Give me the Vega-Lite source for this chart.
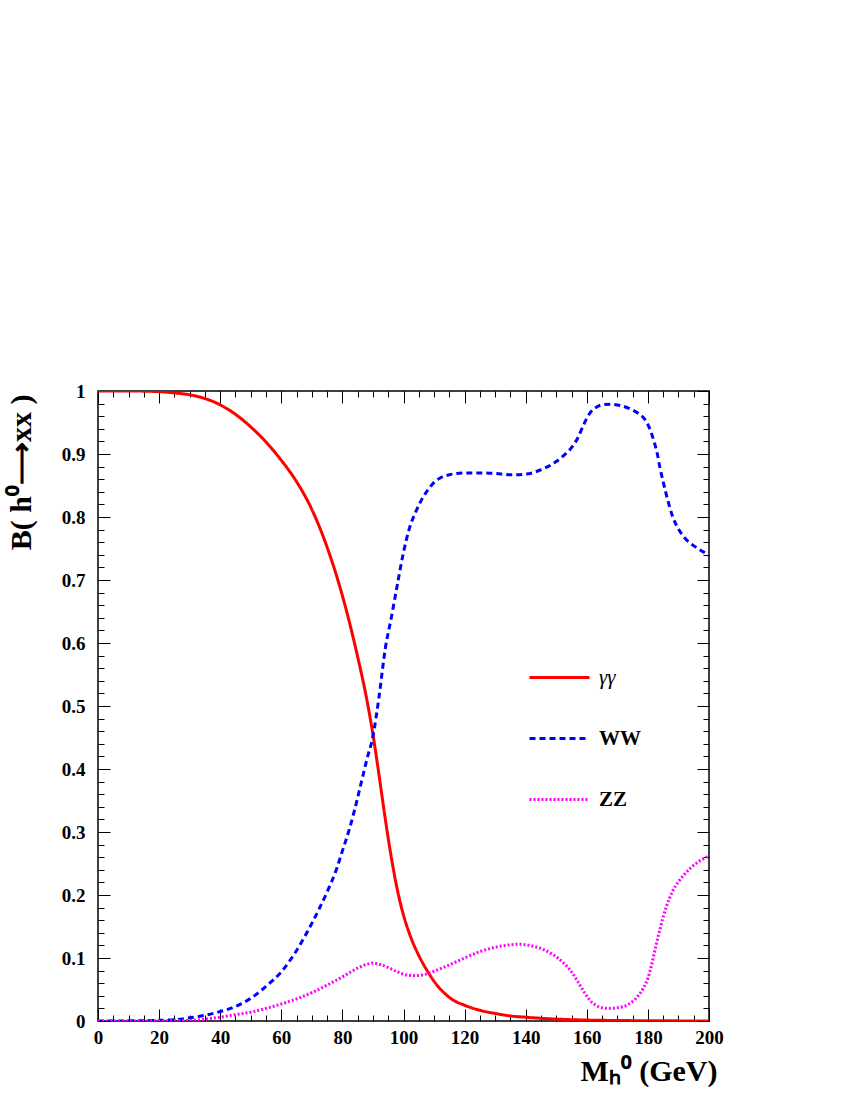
{
  "$schema": "https://vega.github.io/schema/vega-lite/v6.json",
  "width": 611,
  "height": 630,
  "autosize": {"type": "none"},
  "padding": {"left": 98, "top": 391, "right": 141, "bottom": 79},
  "background": "white",
  "config": {
    "view": {"stroke": "black", "strokeWidth": 1.5},
    "font": "Liberation Serif",
    "axis": {"grid": false, "domain": false, "tickColor": "black", "tickWidth": 1, "labelColor": "black", "titleColor": "black", "labelFlush": false}
  },
  "data": {
    "values": [
      {"M": 0, "B": 1.0, "s": "γγ"}, {"M": 10, "B": 1.0, "s": "γγ"}, {"M": 20, "B": 0.999, "s": "γγ"}, {"M": 25, "B": 0.997, "s": "γγ"},
      {"M": 30, "B": 0.994, "s": "γγ"}, {"M": 35, "B": 0.988, "s": "γγ"}, {"M": 40, "B": 0.978, "s": "γγ"}, {"M": 45, "B": 0.963, "s": "γγ"},
      {"M": 50, "B": 0.943, "s": "γγ"}, {"M": 55, "B": 0.919, "s": "γγ"}, {"M": 60, "B": 0.89, "s": "γγ"}, {"M": 65, "B": 0.856, "s": "γγ"},
      {"M": 70, "B": 0.812, "s": "γγ"}, {"M": 75, "B": 0.752, "s": "γγ"}, {"M": 80, "B": 0.675, "s": "γγ"}, {"M": 85, "B": 0.578, "s": "γγ"},
      {"M": 88, "B": 0.51, "s": "γγ"}, {"M": 90, "B": 0.455, "s": "γγ"}, {"M": 92, "B": 0.39, "s": "γγ"}, {"M": 94, "B": 0.322, "s": "γγ"},
      {"M": 96, "B": 0.26, "s": "γγ"}, {"M": 98, "B": 0.208, "s": "γγ"}, {"M": 100, "B": 0.168, "s": "γγ"}, {"M": 102, "B": 0.138, "s": "γγ"},
      {"M": 105, "B": 0.104, "s": "γγ"}, {"M": 108, "B": 0.078, "s": "γγ"}, {"M": 110, "B": 0.063, "s": "γγ"}, {"M": 113, "B": 0.046, "s": "γγ"},
      {"M": 116, "B": 0.034, "s": "γγ"}, {"M": 120, "B": 0.025, "s": "γγ"}, {"M": 125, "B": 0.017, "s": "γγ"}, {"M": 130, "B": 0.012, "s": "γγ"},
      {"M": 135, "B": 0.008, "s": "γγ"}, {"M": 140, "B": 0.006, "s": "γγ"}, {"M": 150, "B": 0.003, "s": "γγ"}, {"M": 160, "B": 0.0015, "s": "γγ"},
      {"M": 170, "B": 0.0008, "s": "γγ"}, {"M": 180, "B": 0.0004, "s": "γγ"}, {"M": 190, "B": 0.0002, "s": "γγ"}, {"M": 200, "B": 0.0001, "s": "γγ"},

      {"M": 0, "B": 0.0, "s": "WW"}, {"M": 10, "B": 0.0002, "s": "WW"}, {"M": 20, "B": 0.001, "s": "WW"}, {"M": 25, "B": 0.002, "s": "WW"},
      {"M": 30, "B": 0.005, "s": "WW"}, {"M": 35, "B": 0.009, "s": "WW"}, {"M": 40, "B": 0.015, "s": "WW"}, {"M": 45, "B": 0.023, "s": "WW"},
      {"M": 50, "B": 0.036, "s": "WW"}, {"M": 55, "B": 0.055, "s": "WW"}, {"M": 60, "B": 0.078, "s": "WW"}, {"M": 65, "B": 0.112, "s": "WW"},
      {"M": 70, "B": 0.155, "s": "WW"}, {"M": 75, "B": 0.205, "s": "WW"}, {"M": 78, "B": 0.24, "s": "WW"}, {"M": 80, "B": 0.27, "s": "WW"},
      {"M": 82, "B": 0.30, "s": "WW"}, {"M": 84, "B": 0.335, "s": "WW"}, {"M": 86, "B": 0.375, "s": "WW"}, {"M": 88, "B": 0.415, "s": "WW"},
      {"M": 90, "B": 0.452, "s": "WW"}, {"M": 92, "B": 0.515, "s": "WW"}, {"M": 94, "B": 0.59, "s": "WW"}, {"M": 96, "B": 0.64, "s": "WW"},
      {"M": 98, "B": 0.693, "s": "WW"}, {"M": 100, "B": 0.744, "s": "WW"}, {"M": 102, "B": 0.783, "s": "WW"}, {"M": 104, "B": 0.808, "s": "WW"},
      {"M": 106, "B": 0.828, "s": "WW"}, {"M": 108, "B": 0.843, "s": "WW"}, {"M": 110, "B": 0.855, "s": "WW"}, {"M": 112, "B": 0.862, "s": "WW"},
      {"M": 115, "B": 0.867, "s": "WW"}, {"M": 120, "B": 0.87, "s": "WW"}, {"M": 125, "B": 0.87, "s": "WW"}, {"M": 130, "B": 0.869, "s": "WW"},
      {"M": 135, "B": 0.867, "s": "WW"}, {"M": 140, "B": 0.868, "s": "WW"}, {"M": 145, "B": 0.875, "s": "WW"}, {"M": 150, "B": 0.888, "s": "WW"},
      {"M": 153, "B": 0.9, "s": "WW"}, {"M": 155, "B": 0.91, "s": "WW"}, {"M": 157, "B": 0.925, "s": "WW"}, {"M": 159, "B": 0.947, "s": "WW"},
      {"M": 161, "B": 0.965, "s": "WW"}, {"M": 163, "B": 0.974, "s": "WW"}, {"M": 165, "B": 0.978, "s": "WW"}, {"M": 168, "B": 0.979, "s": "WW"},
      {"M": 171, "B": 0.977, "s": "WW"}, {"M": 174, "B": 0.972, "s": "WW"}, {"M": 177, "B": 0.964, "s": "WW"}, {"M": 179, "B": 0.955, "s": "WW"},
      {"M": 181, "B": 0.935, "s": "WW"}, {"M": 182, "B": 0.92, "s": "WW"}, {"M": 183, "B": 0.902, "s": "WW"}, {"M": 184, "B": 0.877, "s": "WW"},
      {"M": 185, "B": 0.856, "s": "WW"}, {"M": 186, "B": 0.836, "s": "WW"}, {"M": 187, "B": 0.818, "s": "WW"}, {"M": 188, "B": 0.802, "s": "WW"},
      {"M": 190, "B": 0.781, "s": "WW"}, {"M": 192, "B": 0.767, "s": "WW"}, {"M": 194, "B": 0.758, "s": "WW"}, {"M": 196, "B": 0.751, "s": "WW"},
      {"M": 198, "B": 0.745, "s": "WW"}, {"M": 200, "B": 0.739, "s": "WW"},

      {"M": 0, "B": 0.0, "s": "ZZ"}, {"M": 20, "B": 0.0003, "s": "ZZ"}, {"M": 30, "B": 0.001, "s": "ZZ"}, {"M": 35, "B": 0.003, "s": "ZZ"},
      {"M": 40, "B": 0.006, "s": "ZZ"}, {"M": 45, "B": 0.01, "s": "ZZ"}, {"M": 50, "B": 0.014, "s": "ZZ"}, {"M": 55, "B": 0.02, "s": "ZZ"},
      {"M": 60, "B": 0.027, "s": "ZZ"}, {"M": 65, "B": 0.035, "s": "ZZ"}, {"M": 70, "B": 0.045, "s": "ZZ"}, {"M": 75, "B": 0.057, "s": "ZZ"},
      {"M": 80, "B": 0.07, "s": "ZZ"}, {"M": 85, "B": 0.084, "s": "ZZ"}, {"M": 88, "B": 0.09, "s": "ZZ"}, {"M": 90, "B": 0.092, "s": "ZZ"},
      {"M": 92, "B": 0.09, "s": "ZZ"}, {"M": 95, "B": 0.085, "s": "ZZ"}, {"M": 98, "B": 0.078, "s": "ZZ"}, {"M": 101, "B": 0.073, "s": "ZZ"},
      {"M": 104, "B": 0.072, "s": "ZZ"}, {"M": 107, "B": 0.074, "s": "ZZ"}, {"M": 110, "B": 0.079, "s": "ZZ"}, {"M": 115, "B": 0.089, "s": "ZZ"},
      {"M": 120, "B": 0.1, "s": "ZZ"}, {"M": 125, "B": 0.11, "s": "ZZ"}, {"M": 130, "B": 0.117, "s": "ZZ"}, {"M": 135, "B": 0.121, "s": "ZZ"},
      {"M": 138, "B": 0.122, "s": "ZZ"}, {"M": 140, "B": 0.121, "s": "ZZ"}, {"M": 143, "B": 0.118, "s": "ZZ"}, {"M": 146, "B": 0.113, "s": "ZZ"},
      {"M": 149, "B": 0.105, "s": "ZZ"}, {"M": 152, "B": 0.094, "s": "ZZ"}, {"M": 155, "B": 0.078, "s": "ZZ"}, {"M": 157, "B": 0.063, "s": "ZZ"},
      {"M": 159, "B": 0.047, "s": "ZZ"}, {"M": 161, "B": 0.033, "s": "ZZ"}, {"M": 163, "B": 0.025, "s": "ZZ"}, {"M": 165, "B": 0.021, "s": "ZZ"},
      {"M": 167, "B": 0.02, "s": "ZZ"}, {"M": 170, "B": 0.021, "s": "ZZ"}, {"M": 173, "B": 0.025, "s": "ZZ"}, {"M": 175, "B": 0.031, "s": "ZZ"},
      {"M": 177, "B": 0.041, "s": "ZZ"}, {"M": 178.5, "B": 0.052, "s": "ZZ"}, {"M": 180, "B": 0.068, "s": "ZZ"}, {"M": 181, "B": 0.085, "s": "ZZ"},
      {"M": 182, "B": 0.106, "s": "ZZ"}, {"M": 183, "B": 0.127, "s": "ZZ"}, {"M": 184, "B": 0.147, "s": "ZZ"}, {"M": 185, "B": 0.165, "s": "ZZ"},
      {"M": 186, "B": 0.181, "s": "ZZ"}, {"M": 187, "B": 0.194, "s": "ZZ"}, {"M": 188, "B": 0.205, "s": "ZZ"}, {"M": 189, "B": 0.214, "s": "ZZ"},
      {"M": 190, "B": 0.221, "s": "ZZ"}, {"M": 192, "B": 0.233, "s": "ZZ"}, {"M": 194, "B": 0.243, "s": "ZZ"}, {"M": 196, "B": 0.251, "s": "ZZ"},
      {"M": 198, "B": 0.257, "s": "ZZ"}, {"M": 200, "B": 0.262, "s": "ZZ"}
    ]
  },
  "layer": [
    {
      "mark": {"type": "line", "strokeWidth": 3, "interpolate": "monotone", "clip": true},
      "encoding": {
        "x": {"field": "M", "type": "quantitative", "scale": {"domain": [0, 200], "nice": false, "zero": false},
          "axis": {"orient": "bottom", "values": [0, 20, 40, 60, 80, 100, 120, 140, 160, 180, 200], "ticks": false, "labelPadding": 7,
            "labelFont": "Liberation Serif", "labelFontWeight": "bold", "labelFontSize": 19,
            "title": "Mₕ⁰ (GeV)", "titleFont": "Liberation Serif", "titleFontWeight": "bold", "titleFontSize": 30,
            "titleX": 619, "titleY": 59, "titleAlign": "right", "titleBaseline": "alphabetic"}},
        "y": {"field": "B", "type": "quantitative", "scale": {"domain": [0, 1], "nice": false},
          "axis": {"orient": "left", "values": [0, 0.1, 0.2, 0.3, 0.4, 0.5, 0.6, 0.7, 0.8, 0.9, 1], "ticks": false, "labelPadding": 13,
            "labelFont": "Liberation Serif", "labelFontWeight": "bold", "labelFontSize": 19,
            "labelExpr": "datum.value == 0 ? '0' : datum.value == 1 ? '1' : format(datum.value, '.1f')",
            "title": "B( h⁰⟶xx )", "titleFont": "Liberation Serif", "titleFontWeight": "bold", "titleFontSize": 30,
            "titleAngle": -90, "titleX": -68, "titleY": 3, "titleAlign": "right", "titleBaseline": "alphabetic"}},
        "color": {"field": "s", "type": "nominal",
          "scale": {"domain": ["γγ", "WW", "ZZ"], "range": ["#ff0000", "#0000ff", "#ff00ff"]},
          "legend": {"title": null, "orient": "none", "legendX": 430, "legendY": 255, "padding": 0,
            "symbolType": "stroke", "symbolSize": 3600, "symbolStrokeWidth": 3, "labelOffset": 8,
            "labelFont": "Liberation Serif", "labelFontSize": 21, "labelFontWeight": "bold", "labelColor": "black", "rowPadding": 19,
            "encode": {"labels": {"update": {
              "fontStyle": {"signal": "datum.label === 'γγ' ? 'italic' : 'normal'"},
              "fontWeight": {"signal": "datum.label === 'γγ' ? 'normal' : 'bold'"}}}}}},
        "strokeDash": {"field": "s", "type": "nominal",
          "scale": {"domain": ["γγ", "WW", "ZZ"], "range": [[1, 0], [6, 4], [2, 2]]},
          "legend": {"title": null, "orient": "none", "legendX": 430, "legendY": 255, "padding": 0,
            "symbolType": "stroke", "symbolSize": 3600, "symbolStrokeWidth": 3, "labelOffset": 8,
            "labelFont": "Liberation Serif", "labelFontSize": 21, "labelFontWeight": "bold", "labelColor": "black", "rowPadding": 19}}
      }
    },
    {
      "mark": {"type": "point", "opacity": 0},
      "encoding": {
        "x": {"field": "M", "type": "quantitative", "scale": {"domain": [0, 200], "nice": false, "zero": false},
          "axis": {"orient": "bottom", "values": [0, 20, 40, 60, 80, 100, 120, 140, 160, 180, 200], "labels": false, "tickSize": -12, "title": null}},
        "y": {"field": "B", "type": "quantitative", "scale": {"domain": [0, 1], "nice": false},
          "axis": {"orient": "left", "values": [0, 0.1, 0.2, 0.3, 0.4, 0.5, 0.6, 0.7, 0.8, 0.9, 1], "labels": false, "tickSize": -12, "title": null}}
      }
    },
    {
      "mark": {"type": "point", "opacity": 0},
      "encoding": {
        "x": {"field": "M", "type": "quantitative", "scale": {"domain": [0, 200], "nice": false, "zero": false},
          "axis": {"orient": "bottom", "values": [0, 5, 10, 15, 20, 25, 30, 35, 40, 45, 50, 55, 60, 65, 70, 75, 80, 85, 90, 95, 100, 105, 110, 115, 120, 125, 130, 135, 140, 145, 150, 155, 160, 165, 170, 175, 180, 185, 190, 195, 200], "labels": false, "tickSize": -6, "title": null}},
        "y": {"field": "B", "type": "quantitative", "scale": {"domain": [0, 1], "nice": false},
          "axis": {"orient": "left", "values": [0, 0.02, 0.04, 0.06, 0.08, 0.1, 0.12, 0.14, 0.16, 0.18, 0.2, 0.22, 0.24, 0.26, 0.28, 0.3, 0.32, 0.34, 0.36, 0.38, 0.4, 0.42, 0.44, 0.46, 0.48, 0.5, 0.52, 0.54, 0.56, 0.58, 0.6, 0.62, 0.64, 0.66, 0.68, 0.7, 0.72, 0.74, 0.76, 0.78, 0.8, 0.82, 0.84, 0.86, 0.88, 0.9, 0.92, 0.94, 0.96, 0.98, 1], "labels": false, "tickSize": -6, "title": null}}
      }
    },
    {
      "mark": {"type": "point", "opacity": 0},
      "encoding": {
        "x": {"field": "M", "type": "quantitative", "scale": {"domain": [0, 200], "nice": false, "zero": false},
          "axis": {"orient": "top", "values": [0, 20, 40, 60, 80, 100, 120, 140, 160, 180, 200], "labels": false, "tickSize": -12, "title": null}},
        "y": {"field": "B", "type": "quantitative", "scale": {"domain": [0, 1], "nice": false},
          "axis": {"orient": "right", "values": [0, 0.1, 0.2, 0.3, 0.4, 0.5, 0.6, 0.7, 0.8, 0.9, 1], "labels": false, "tickSize": -12, "title": null}}
      }
    },
    {
      "mark": {"type": "point", "opacity": 0},
      "encoding": {
        "x": {"field": "M", "type": "quantitative", "scale": {"domain": [0, 200], "nice": false, "zero": false},
          "axis": {"orient": "top", "values": [0, 5, 10, 15, 20, 25, 30, 35, 40, 45, 50, 55, 60, 65, 70, 75, 80, 85, 90, 95, 100, 105, 110, 115, 120, 125, 130, 135, 140, 145, 150, 155, 160, 165, 170, 175, 180, 185, 190, 195, 200], "labels": false, "tickSize": -6, "title": null}},
        "y": {"field": "B", "type": "quantitative", "scale": {"domain": [0, 1], "nice": false},
          "axis": {"orient": "right", "values": [0, 0.02, 0.04, 0.06, 0.08, 0.1, 0.12, 0.14, 0.16, 0.18, 0.2, 0.22, 0.24, 0.26, 0.28, 0.3, 0.32, 0.34, 0.36, 0.38, 0.4, 0.42, 0.44, 0.46, 0.48, 0.5, 0.52, 0.54, 0.56, 0.58, 0.6, 0.62, 0.64, 0.66, 0.68, 0.7, 0.72, 0.74, 0.76, 0.78, 0.8, 0.82, 0.84, 0.86, 0.88, 0.9, 0.92, 0.94, 0.96, 0.98, 1], "labels": false, "tickSize": -6, "title": null}}
      }
    }
  ],
  "resolve": {"axis": {"x": "independent", "y": "independent"}}
}
